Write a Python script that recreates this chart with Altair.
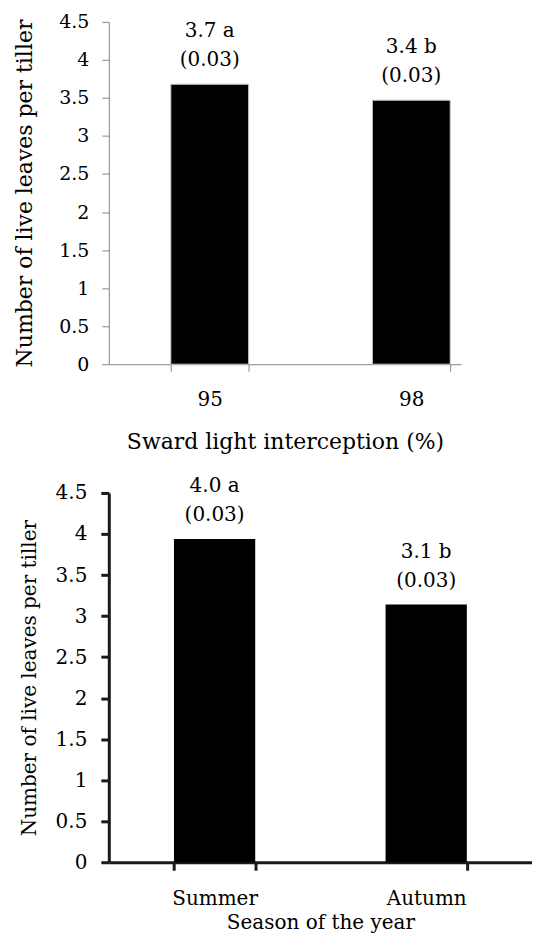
import altair as alt
import pandas as pd

# ---- data ----
li_categories = ["95", "98"]
li_values = [3.68, 3.47]
li_labels = ["3.7 a", "3.4 b"]
li_se = ["(0.03)", "(0.03)"]

season_categories = ["Summer", "Autumn"]
season_values = [3.94, 3.14]
season_labels = ["4.0 a", "3.1 b"]
season_se = ["(0.03)", "(0.03)"]

y_ticks = [0, 0.5, 1, 1.5, 2, 2.5, 3, 3.5, 4, 4.5]

FONT = "DejaVu Serif"


def panel(cats, vals, labs, ses, xtitle, width, height, x_scale, axis_color,
          axis_width, tick_size, label_size, xlabel_size, title_size, text_size,
          y_label_pad, y_title_pad, x_label_pad, x_title_pad, bar_stroke,
          bar_stroke_width):
    df = pd.DataFrame({"cat": cats, "value": vals, "label": labs, "se": ses})
    x_axis = alt.Axis(
        title=xtitle, labelAngle=0, tickBand="extent",
        domainColor=axis_color, domainWidth=axis_width,
        tickColor=axis_color, tickWidth=axis_width, tickSize=tick_size,
        labelFont=FONT, labelFontSize=xlabel_size, labelColor="black",
        labelPadding=x_label_pad,
        titleFont=FONT, titleFontSize=title_size, titleFontWeight="normal",
        titleColor="black", titlePadding=x_title_pad,
    )
    y_axis = alt.Axis(
        title="Number of live leaves per tiller", values=y_ticks, format="~g",
        grid=False, labelOverlap=False,
        domainColor=axis_color, domainWidth=axis_width,
        tickColor=axis_color, tickWidth=axis_width, tickSize=tick_size,
        labelFont=FONT, labelFontSize=label_size, labelColor="black",
        labelPadding=y_label_pad,
        titleFont=FONT, titleFontSize=title_size, titleFontWeight="normal",
        titleColor="black", titlePadding=y_title_pad,
    )
    base = alt.Chart(df).encode(
        x=alt.X("cat:N", sort=cats, scale=x_scale, axis=x_axis),
        y=alt.Y("value:Q", scale=alt.Scale(domain=[0, 4.5], nice=False),
                axis=y_axis),
    )
    bars = base.mark_bar(color="black", stroke=bar_stroke,
                         strokeWidth=bar_stroke_width)
    t1 = base.mark_text(font=FONT, fontSize=text_size, color="black",
                        baseline="middle", dy=-53).encode(text="label:N")
    t2 = base.mark_text(font=FONT, fontSize=text_size, color="black",
                        baseline="middle", dy=-24).encode(text="se:N")
    return alt.layer(bars, t1, t2).properties(width=width, height=height)


top = panel(
    li_categories, li_values, li_labels, li_se,
    "Sward light interception (%)", 353, 343,
    alt.Scale(paddingInner=0.614, paddingOuter=0.181, align=0.85),
    "#868686", 1, 7, 19, 20, 22, 20,
    13, 22, 18, 22, "#c8c8c8", 1,
)

bottom = panel(
    season_categories, season_values, season_labels, season_se,
    "Season of the year", 424, 370,
    alt.Scale(paddingInner=0.616, paddingOuter=0.308),
    "#1a1a1a", 3, 8, 20, 20, 20, 20,
    14, 16, 18, 4, "#1a1a1a", 0,
)

chart = (
    alt.vconcat(top, bottom, spacing=129, bounds="flush")
    .configure(font=FONT)
    .configure_view(stroke=None)
    .properties(padding={"left": 5, "top": 4, "right": 0, "bottom": 0},
                background="white")
)

chart.save("out.html", embed_options={"renderer": "svg", "actions": False})
